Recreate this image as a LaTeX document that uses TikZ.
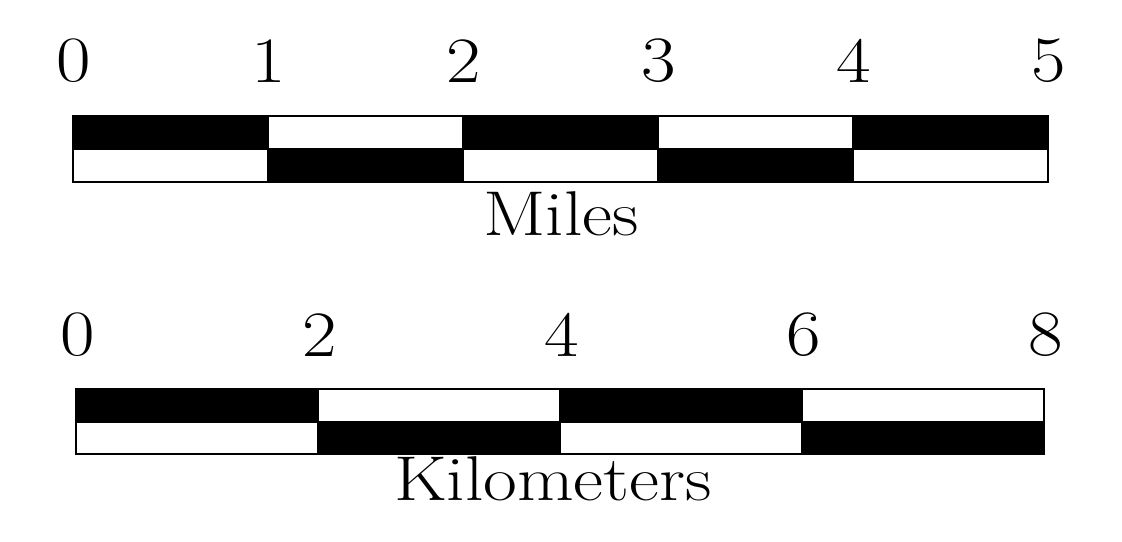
\documentclass[tikz,border=0pt]{standalone}
\usepackage{fontspec}
\newcommand{\wide}[1]{\scalebox{1.16}[1]{#1}}
\tikzset{
  numlabel/.style={font=\fontsize{46}{50}\selectfont, inner sep=0pt},
  unitlabel/.style={font=\fontsize{45}{50}\selectfont, inner sep=0pt, anchor=base},
  barcell/.style={draw=black, line width=0.9pt}
}
\begin{document}
\begin{tikzpicture}[x=0.025cm,y=-0.025cm]
\useasboundingbox (0,0) rectangle (1122,541);
% miles bar
\foreach \i in {0,...,4} {
  \pgfmathsetmacro{\xa}{73+195*\i}
  \pgfmathsetmacro{\xb}{73+195*(\i+1)}
  \ifodd\i
    \fill[white,barcell] (\xa,116) rectangle (\xb,149);
    \fill[black,barcell] (\xa,149) rectangle (\xb,182);
  \else
    \fill[black,barcell] (\xa,116) rectangle (\xb,149);
    \fill[white,barcell] (\xa,149) rectangle (\xb,182);
  \fi
}
\draw[barcell] (73,116) rectangle (1048,182);
\foreach \i in {0,...,5}
  \node[numlabel] (mi\i) at (74+195*\i,61) {\wide{\i}};
\node[unitlabel] (miles) at (561,235) {\wide{Miles}};
% kilometer bar
\foreach \i in {0,...,3} {
  \pgfmathsetmacro{\xa}{76+242*\i}
  \pgfmathsetmacro{\xb}{76+242*(\i+1)}
  \ifodd\i
    \fill[white,barcell] (\xa,389) rectangle (\xb,422);
    \fill[black,barcell] (\xa,422) rectangle (\xb,454);
  \else
    \fill[black,barcell] (\xa,389) rectangle (\xb,422);
    \fill[white,barcell] (\xa,422) rectangle (\xb,454);
  \fi
}
\draw[barcell] (76,389) rectangle (1044,454);
\foreach \i/\k in {0/0,1/2,2/4,3/6,4/8}
  \node[numlabel] (km\k) at (78+242*\i,335) {\wide{\k}};
\node[unitlabel] (kilometers) at (553,500) {\wide{Kilometers}};
\end{tikzpicture}
\end{document}
